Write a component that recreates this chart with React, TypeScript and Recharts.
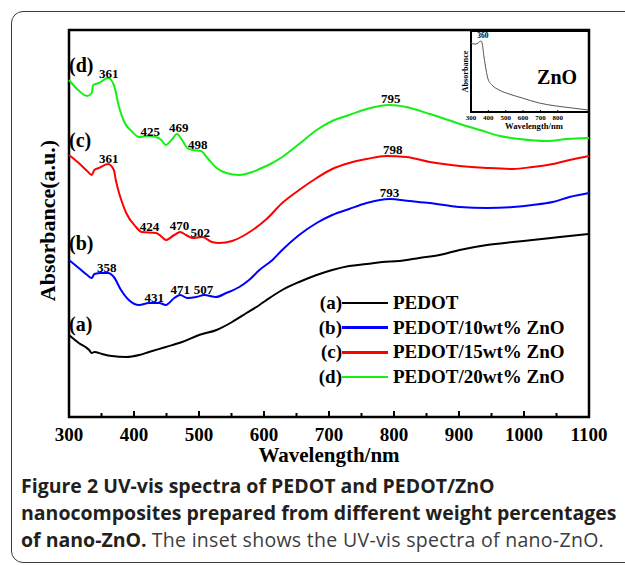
import React from "react";
import {
  Label,
  Legend,
  Line,
  LineChart,
  ReferenceArea,
  ReferenceDot,
  XAxis,
  YAxis,
} from "recharts";

const SERIF = '"Liberation Serif", "Times New Roman", serif';
const SANS = '"Open Sans", "Noto Sans", sans-serif';

// (a) PEDOT
const WL_A = [300, 315, 331, 335, 339, 351, 366, 388, 408, 423, 449, 474, 500, 527, 551, 573, 593, 604, 628, 654, 681, 705, 731, 758, 782, 808, 839, 870, 901, 943, 983, 1013, 1055, 1100];
const ABS_A = [0.82, 0.74, 0.67, 0.64, 0.65, 0.63, 0.61, 0.6, 0.62, 0.65, 0.7, 0.75, 0.82, 0.87, 0.95, 1.04, 1.12, 1.17, 1.27, 1.35, 1.42, 1.47, 1.51, 1.53, 1.55, 1.56, 1.59, 1.62, 1.67, 1.72, 1.75, 1.77, 1.8, 1.83];

// (b) PEDOT/10wt% ZnO
const WL_B = [300, 315, 328, 335, 339, 349, 360, 369, 380, 392, 408, 423, 439, 449, 462, 471, 482, 496, 508, 526, 542, 562, 577, 593, 613, 628, 654, 681, 705, 731, 758, 793, 824, 855, 901, 943, 983, 1013, 1044, 1070, 1100];
const ABS_B = [1.57, 1.49, 1.42, 1.39, 1.43, 1.44, 1.44, 1.4, 1.27, 1.17, 1.12, 1.14, 1.14, 1.12, 1.19, 1.22, 1.19, 1.2, 1.22, 1.2, 1.24, 1.3, 1.37, 1.47, 1.57, 1.67, 1.82, 1.94, 2.02, 2.08, 2.14, 2.18, 2.16, 2.14, 2.1, 2.09, 2.1, 2.12, 2.15, 2.2, 2.24];

// (c) PEDOT/15wt% ZnO
const WL_C = [300, 315, 328, 335, 339, 346, 360, 369, 372, 377, 382, 388, 403, 412, 434, 443, 449, 462, 471, 480, 490, 505, 520, 531, 551, 573, 593, 604, 628, 654, 681, 705, 731, 758, 788, 819, 855, 901, 943, 983, 1013, 1044, 1070, 1100];
const ABS_C = [2.62, 2.54, 2.46, 2.42, 2.47, 2.49, 2.53, 2.47, 2.37, 2.24, 2.14, 2.04, 1.9, 1.85, 1.84, 1.8, 1.77, 1.82, 1.85, 1.82, 1.79, 1.8, 1.75, 1.74, 1.76, 1.83, 1.92, 1.98, 2.14, 2.27, 2.39, 2.48, 2.54, 2.58, 2.61, 2.6, 2.55, 2.51, 2.49, 2.48, 2.5, 2.53, 2.57, 2.61];

// (d) PEDOT/20wt% ZnO
const WL_D = [300, 314, 328, 335, 337, 346, 360, 369, 377, 385, 396, 408, 420, 434, 442, 449, 459, 466, 474, 482, 490, 503, 513, 527, 542, 562, 582, 593, 610, 628, 654, 681, 705, 731, 758, 793, 819, 855, 870, 901, 932, 963, 993, 1035, 1066, 1100];
const ABS_D = [3.37, 3.27, 3.21, 3.24, 3.32, 3.34, 3.39, 3.32, 3.1, 2.95, 2.86, 2.8, 2.81, 2.8, 2.77, 2.72, 2.78, 2.83, 2.77, 2.69, 2.67, 2.66, 2.59, 2.49, 2.44, 2.42, 2.45, 2.48, 2.53, 2.6, 2.73, 2.87, 2.96, 3.02, 3.08, 3.12, 3.1, 3.03, 3.0, 2.93, 2.87, 2.81, 2.78, 2.76, 2.78, 2.79];

// inset: nano-ZnO
const WL_ZNO = [300, 317, 329, 340, 358, 364, 375, 387, 398, 421, 462, 520, 595, 693, 791, 884, 976];
const ABS_ZNO = [6.9, 6.8, 6.8, 6.9, 7.1, 6.9, 5.5, 4.2, 3.3, 2.7, 2.2, 1.8, 1.4, 0.9, 0.6, 0.4, 0.2];

// peak labels (wavelength) and the height where each label sits
const PEAK_B = [358, 431, 471, 507, 793];
const PEAK_B_Y = [1.5, 1.2, 1.28, 1.28, 2.25];
const PEAK_C = [361, 424, 470, 502, 798];
const PEAK_C_Y = [2.59, 1.91, 1.92, 1.85, 2.68];
const PEAK_D = [361, 425, 469, 498, 795];
const PEAK_D_Y = [3.44, 2.86, 2.9, 2.73, 3.19];

const LETTER_Y = [0.93, 1.74, 2.77, 3.52];

const X_TICKS = [300, 350, 400, 450, 500, 550, 600, 650, 700, 750, 800, 850, 900, 950, 1000, 1050, 1100];
const INSET_TICKS = [300, 400, 500, 600, 700, 800];

const toPoints = (xs: number[], ys: number[]) => xs.map((x, i) => ({ x, y: ys[i] }));

const SERIES = [
  { key: "a", name: "PEDOT", color: "#000000", data: toPoints(WL_A, ABS_A), peaks: [] as number[], peakY: [] as number[] },
  { key: "b", name: "PEDOT/10wt% ZnO", color: "#0000ff", data: toPoints(WL_B, ABS_B), peaks: PEAK_B, peakY: PEAK_B_Y },
  { key: "c", name: "PEDOT/15wt% ZnO", color: "#ff0000", data: toPoints(WL_C, ABS_C), peaks: PEAK_C, peakY: PEAK_C_Y },
  { key: "d", name: "PEDOT/20wt% ZnO", color: "#14f014", data: toPoints(WL_D, ABS_D), peaks: PEAK_D, peakY: PEAK_D_Y },
];

const MainTick = (props: any) => {
  const { x, y, payload } = props;
  const major = payload.value % 100 === 0;
  return (
    <g>
      <line x1={x} x2={x} y1={y} y2={y - (major ? 6 : 4)} stroke="#000" strokeWidth={2} />
      {major && (
        <text x={x} y={y + 24} textAnchor="middle" fontFamily={SERIF} fontWeight="bold" fontSize={19} fill="#000">
          {payload.value}
        </text>
      )}
    </g>
  );
};

const InsetTick = (props: any) => {
  const { x, y, payload } = props;
  return (
    <g>
      <line x1={x} x2={x} y1={y} y2={y - 2} stroke="#000" strokeWidth={1} />
      <text x={x} y={y + 7.5} textAnchor="middle" fontFamily={SERIF} fontWeight="bold" fontSize={7} fill="#000">
        {payload.value}
      </text>
    </g>
  );
};

const textShape = (t: string, size: number, anchor: string = "middle") => (p: any) => (
  <text x={p.cx} y={p.cy} textAnchor={anchor} dominantBaseline="central" fontFamily={SERIF} fontWeight="bold" fontSize={size} fill="#000">
    {t}
  </text>
);

const renderLegend = () => (
  <div style={{ fontFamily: SERIF, fontWeight: "bold", fontSize: 19, color: "#000" }}>
    {SERIES.map((s) => (
      <div key={s.key} style={{ display: "flex", alignItems: "center", height: 24.7, whiteSpace: "nowrap" }}>
        <span style={{ width: 24, textAlign: "right" }}>({s.key})</span>
        <span style={{ width: 46, height: 2.5, background: s.color }} />
        <span style={{ marginLeft: 5 }}>{s.name}</span>
      </div>
    ))}
  </div>
);

export default function App() {
  const zno = toPoints(WL_ZNO, ABS_ZNO);
  return (
    <div style={{ position: "absolute", left: 0, top: 0, width: 625, height: 565, overflow: "hidden", background: "#fff" }}>
      <div
        style={{
          position: "absolute",
          left: 11,
          top: 11,
          width: 660,
          height: 550,
          border: "1.5px solid #3a3a3a",
          borderRadius: 12,
        }}
      />
      <div style={{ position: "absolute", left: 0, top: 0 }}>
        <LineChart width={625} height={480} margin={{ top: 30, right: 36, left: 0, bottom: 0 }}>
          <XAxis
            type="number"
            dataKey="x"
            domain={[300, 1100]}
            ticks={X_TICKS}
            interval={0}
            height={63}
            tickSize={0}
            tickMargin={0}
            tickLine={false}
            axisLine={false}
            tick={<MainTick />}
          >
            <Label
              content={(p: any) => (
                <text
                  x={p.viewBox.x + p.viewBox.width / 2}
                  y={p.viewBox.y + 45}
                  textAnchor="middle"
                  fontFamily={SERIF}
                  fontWeight="bold"
                  fontSize={21}
                  fill="#000"
                >
                  Wavelength/nm
                </text>
              )}
            />
          </XAxis>
          <YAxis type="number" domain={[0, 3.87]} width={69} tick={false} axisLine={false} tickLine={false}>
            <Label
              content={(p: any) => (
                <text
                  transform={`translate(${p.viewBox.x + 47}, ${p.viewBox.y + p.viewBox.height / 2 - 3}) rotate(-90)`}
                  textAnchor="middle"
                  dominantBaseline="central"
                  fontFamily={SERIF}
                  fontWeight="bold"
                  fontSize={22}
                  fill="#000"
                >
                  Absorbance(a.u.)
                </text>
              )}
            />
          </YAxis>
          <ReferenceArea x1={300} x2={1100} y1={0} y2={3.87} fill="none" stroke="#000" strokeWidth={2.5} />
          {SERIES.map((s) => (
            <Line
              key={s.key}
              name={s.name}
              data={s.data}
              dataKey="y"
              type="monotone"
              stroke={s.color}
              strokeWidth={2}
              dot={false}
              activeDot={false}
              isAnimationActive={false}
            />
          ))}
          {SERIES.map((s, i) => (
            <ReferenceDot key={"l" + s.key} x={300} y={LETTER_Y[i]} r={0} shape={textShape(`(${s.key})`, 20, "start")} />
          ))}
          {SERIES.flatMap((s) =>
            s.peaks.map((pk, j) => (
              <ReferenceDot key={s.key + pk} x={pk} y={s.peakY[j]} r={0} shape={textShape(String(pk), 13)} />
            ))
          )}
          <Legend
            layout="vertical"
            align="center"
            verticalAlign="middle"
            content={renderLegend}
            wrapperStyle={{ left: 318, top: 290.6, width: 280 }}
          />
        </LineChart>
      </div>

      <div style={{ position: "absolute", left: 440, top: 20 }}>
        <LineChart width={155} height={122} margin={{ top: 11, right: 6, left: 0, bottom: 0 }}>
          <XAxis
            type="number"
            dataKey="x"
            domain={[300, 980]}
            ticks={INSET_TICKS}
            interval={0}
            height={30}
            tickSize={0}
            tickMargin={0}
            tickLine={false}
            axisLine={false}
            tick={<InsetTick />}
          >
            <Label
              content={(p: any) => (
                <text
                  x={p.viewBox.x + p.viewBox.width / 2 + 4}
                  y={p.viewBox.y + 17}
                  textAnchor="middle"
                  fontFamily={SERIF}
                  fontWeight="bold"
                  fontSize={8.6}
                  fill="#000"
                >
                  Wavelength/nm
                </text>
              )}
            />
          </XAxis>
          <YAxis type="number" domain={[0, 8.1]} width={31} tick={false} axisLine={false} tickLine={false}>
            <Label
              content={(p: any) => (
                <text
                  transform={`translate(${p.viewBox.x + 25}, ${p.viewBox.y + p.viewBox.height / 2}) rotate(-90)`}
                  textAnchor="middle"
                  dominantBaseline="central"
                  fontFamily={SERIF}
                  fontWeight="bold"
                  fontSize={8.2}
                  fill="#000"
                >
                  Absorbance
                </text>
              )}
            />
          </YAxis>
          <ReferenceArea x1={300} x2={980} y1={0} y2={8.1} fill="none" stroke="#000" strokeWidth={2} />
          <Line
            data={zno}
            dataKey="y"
            type="monotone"
            stroke="#555"
            strokeWidth={1}
            dot={false}
            activeDot={false}
            isAnimationActive={false}
          />
          <ReferenceDot x={368} y={7.7} r={0} shape={textShape("360", 7.5)} />
          <ReferenceDot x={796} y={3.5} r={0} shape={textShape("ZnO", 20)} />
        </LineChart>
      </div>

      <div
        style={{
          position: "absolute",
          left: 21,
          top: 472,
          width: 603,
          fontFamily: SANS,
          fontSize: 19.5,
          lineHeight: "27px",
          color: "#231f20",
        }}
      >
        <b>Figure 2 UV-vis spectra of PEDOT and PEDOT/ZnO nanocomposites prepared from different weight percentages of nano-ZnO.</b>{" "}
        <span style={{ fontWeight: 400, color: "#3c3c3c", letterSpacing: 0.3 }}>The inset shows the UV-vis spectra of nano-ZnO.</span>
      </div>
    </div>
  );
}
